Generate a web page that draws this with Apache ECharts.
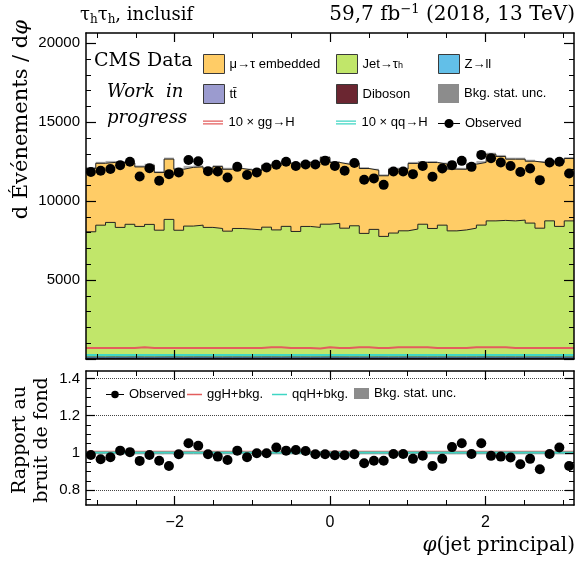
<!DOCTYPE html>
<html>
<head>
<meta charset="utf-8">
<title>phi leading jet</title>
<script src="https://cdn.jsdelivr.net/npm/echarts@6/dist/echarts.min.js"></script>
<style>
  html, body { margin: 0; padding: 0; background: #fff; }
  #chart { width: 577px; height: 563px; }
</style>
</head>
<body>
<div id="chart"></div>
<script>
// --- values (50 bins in phi, -pi..pi) ---
const observed = [11850, 11920, 12030, 12280, 12490, 11560, 12090, 11290, 11710, 11820,
  12610, 12530, 11900, 11880, 11500, 12170, 11660, 11820, 12130, 12300,
  12490, 12230, 12320, 12320, 12550, 12230, 11920, 12410, 11350, 11440,
  11030, 11880, 11880, 11710, 12230, 11540, 12070, 12280, 12550, 12170,
  12930, 12720, 12450, 12230, 11850, 12070, 11330, 12450, 12490, 11750];
const embedded = [4010, 3920, 3800, 4110, 3880, 3770, 3750, 3650, 3820, 3860,
  3720, 3690, 3690, 3920, 3920, 3800, 3750, 3730, 3920, 4050,
  4010, 4260, 4050, 4110, 4220, 3860, 4050, 3970, 4110, 3750,
  3840, 4050, 3910, 4160, 3910, 4180, 3870, 3910, 3840, 4050,
  3970, 4220, 4050, 3910, 3860, 3920, 4160, 3750, 4050, 3950];
const jetFakes = [7930, 8350, 8520, 8210, 8400, 8270, 8400, 8030, 8710, 8030,
  8290, 8350, 8210, 8140, 7970, 8140, 8100, 8050, 8220, 8050,
  8270, 7950, 8270, 8210, 8410, 8460, 8160, 8310, 7830, 8080,
  7640, 7850, 7990, 8100, 8410, 8140, 8350, 7990, 8050, 8160,
  8350, 8620, 8650, 8620, 8670, 8480, 8160, 8620, 8270, 8620];
const zll = [72, 70, 74, 69, 73, 71, 70, 72, 75, 70, 71, 73, 69, 70, 72, 71, 70, 73, 72, 70,
  74, 71, 69, 72, 73, 71, 70, 72, 69, 71, 70, 72, 71, 73, 70, 72, 71, 69, 70, 72,
  74, 73, 71, 70, 72, 71, 70, 73, 72, 71];
const ttbar = [45, 44, 46, 45, 47, 44, 45, 46, 45, 44, 46, 45, 44, 45, 46, 45, 44, 45, 47, 45,
  44, 46, 45, 44, 45, 46, 45, 44, 45, 46, 44, 45, 46, 45, 44, 45, 46, 45, 44, 45,
  46, 45, 47, 45, 44, 46, 45, 44, 45, 46];
const diboson = [12, 13, 12, 12, 13, 12, 11, 12, 13, 12, 12, 12, 13, 12, 11, 12, 12, 13, 12, 12,
  13, 12, 12, 11, 12, 13, 12, 12, 12, 13, 12, 11, 12, 12, 13, 12, 12, 12, 13, 12,
  12, 11, 12, 13, 12, 12, 12, 13, 12, 12];
const bkgUnc = [95, 92, 96, 94, 93, 95, 94, 96, 97, 93, 94, 95, 93, 94, 95, 94, 93, 95, 96, 94,
  95, 96, 94, 95, 97, 94, 95, 94, 93, 92, 91, 94, 93, 95, 94, 95, 94, 93, 94, 95,
  96, 98, 97, 96, 95, 95, 94, 96, 95, 97];
const ggH10 = [700, 700, 700, 700, 700, 740, 700, 700, 700, 700, 700, 700, 700, 700, 700, 700, 700, 700, 740, 740,
  700, 700, 700, 670, 740, 700, 700, 740, 740, 700, 700, 740, 740, 740, 740, 700, 700, 700, 700, 740,
  740, 740, 740, 700, 700, 700, 700, 700, 700, 700];
const qqH10 = [250, 252, 248, 250, 251, 249, 250, 252, 250, 248, 251, 250, 249, 250, 252, 250, 248, 250, 251, 250,
  249, 250, 252, 250, 251, 250, 249, 250, 248, 250, 251, 250, 252, 249, 250, 250, 251, 248, 250, 252,
  250, 251, 250, 249, 250, 252, 250, 248, 251, 250];
const ratioObs = [0.989, 0.966, 0.977, 1.012, 1.004, 0.957, 0.989, 0.958, 0.930, 0.993,
  1.052, 1.038, 0.993, 0.980, 0.962, 1.012, 0.977, 0.998, 0.998, 1.029,
  1.012, 1.016, 1.010, 0.993, 0.993, 0.987, 0.987, 0.993, 0.944, 0.958,
  0.958, 0.994, 0.994, 0.968, 0.985, 0.930, 0.968, 1.031, 1.052, 0.994,
  1.052, 0.984, 0.980, 0.975, 0.939, 0.968, 0.912, 0.994, 1.029, 0.930];

// ticks
const xMajor = [-2, 0, 2];
const xMinor = [-3, -2.5, -1.5, -1, -0.5, 0.5, 1, 1.5, 2.5, 3];
const yTopMajor = [0, 5000, 10000, 15000, 20000];
const yTopLabels = [5000, 10000, 15000, 20000];
const yTopMinor = [1000, 2000, 3000, 4000, 6000, 7000, 8000, 9000, 11000, 12000, 13000, 14000, 16000, 17000, 18000, 19000];
const yRatioMajor = [0.8, 1, 1.2, 1.4];
const yRatioMinor = [0.75, 0.85, 0.9, 0.95, 1.05, 1.1, 1.15, 1.25, 1.3, 1.35];
const ratioGridLines = [0.8, 1.2, 1.4];

const SERIF = '"DejaVu Serif", serif';
const SANS = '"Liberation Sans", Arial, sans-serif';

const nBins = observed.length;
const edges = [];
for (let i = 0; i <= nBins; i++) edges.push(-Math.PI + i * 2 * Math.PI / nBins);
const centers = edges.slice(0, nBins).map((e, i) => (e + edges[i + 1]) / 2);

// cumulative stack tops
const topDib = diboson.slice();
const topTT = ttbar.map((v, i) => v + topDib[i]);
const topZll = zll.map((v, i) => v + topTT[i]);
const topJet = jetFakes.map((v, i) => v + topZll[i]);
const total = embedded.map((v, i) => v + topJet[i]);

function steps(vals) {
  const out = [];
  vals.forEach((v, i) => { out.push([edges[i], v]); out.push([edges[i + 1], v]); });
  return out;
}

function areaSeries(name, vals, color, lineColor) {
  return {
    name: name, type: 'line', xAxisIndex: 0, yAxisIndex: 0,
    data: steps(vals), symbol: 'none', color: color,
    lineStyle: { color: lineColor, width: 1 },
    areaStyle: { color: color, opacity: 1 },
    animation: false
  };
}

function bandSeries(name, xi, yi, rows, fill) {
  return {
    name: name, type: 'custom', xAxisIndex: xi, yAxisIndex: yi,
    data: rows, encode: { x: [0, 1], y: [2, 3] },
    renderItem: function (params, api) {
      const a = api.coord([api.value(0), api.value(2)]);
      const b = api.coord([api.value(1), api.value(3)]);
      return { type: 'rect', shape: { x: a[0], y: b[1], width: b[0] - a[0], height: a[1] - b[1] }, style: { fill: fill } };
    },
    animation: false
  };
}

function xAxes(grid, pos, labels) {
  const base = {
    type: 'value', gridIndex: grid, position: pos, min: -Math.PI, max: Math.PI, z: 10,
    splitLine: { show: false }
  };
  return [
    Object.assign({}, base, {
      axisLine: { show: true, onZero: false, lineStyle: { color: '#000', width: 1.5 } },
      axisTick: { inside: true, length: 9, customValues: xMajor, lineStyle: { color: '#000', width: 1.2 } },
      axisLabel: labels ? {
        show: true, customValues: xMajor, margin: 10, color: '#000', fontFamily: SANS, fontSize: 16,
        formatter: v => v < 0 ? '\u2212' + Math.abs(v) : String(v)
      } : { show: false }
    }),
    Object.assign({}, base, {
      axisLine: { show: false, onZero: false },
      axisTick: { inside: true, length: 5, customValues: xMinor, lineStyle: { color: '#000', width: 1 } },
      axisLabel: { show: false }
    })
  ];
}

function yAxes(grid, pos, min, max, major, minor, labels, fmt, longT, shortT) {
  const base = { type: 'value', gridIndex: grid, position: pos, min: min, max: max, z: 10, splitLine: { show: false } };
  return [
    Object.assign({}, base, {
      axisLine: { show: true, onZero: false, lineStyle: { color: '#000', width: 1.5 } },
      axisTick: { inside: true, length: longT, customValues: major, lineStyle: { color: '#000', width: 1.2 } },
      axisLabel: labels ? {
        show: true, customValues: labels, margin: 6, color: '#000', fontFamily: SANS, fontSize: 15, formatter: fmt
      } : { show: false }
    }),
    Object.assign({}, base, {
      axisLine: { show: false, onZero: false },
      axisTick: { inside: true, length: shortT, customValues: minor, lineStyle: { color: '#000', width: 1 } },
      axisLabel: { show: false }
    })
  ];
}

const topMax = 20650;
const rMin = 0.72, rMax = 1.44;

const legendText = {
  fontFamily: SANS, fontSize: 13, color: '#000',
  rich: {
    n: { fontFamily: SANS, fontSize: 13, color: '#000' },
    s: { fontFamily: SANS, fontSize: 9, color: '#000', verticalAlign: 'bottom', lineHeight: 6 }
  }
};
const obsIcon = 'path://M0,4.4H7V5.6H0Z M17,4.4H24V5.6H17Z M17,5A5,5 0 1 1 7,5A5,5 0 1 1 17,5Z';
const dblLine = 'path://M0,0H20V1.2H0Z M0,2.8H20V4H0Z';
const oneLine = 'path://M0,0H20V2H0Z';

function leg(item, left, top, extra) {
  return Object.assign({
    left: left, top: top, padding: 0, itemGap: 0, selectedMode: false,
    itemWidth: 21, itemHeight: 19, textStyle: legendText,
    formatter: n => n === 'Jet\u2192\u03c4h' ? '{n|Jet\u2192\u03c4}{s|h}' : n,
    data: [item]
  }, extra || {});
}
function boxItem(name, color, border) {
  return { name: name, icon: 'rect', itemStyle: { color: color, borderColor: border || '#3a3a3a', borderWidth: border === 'none' ? 0 : 1 } };
}
function lineItem(name, color, icon) {
  return { name: name, icon: icon, itemStyle: { color: color, borderWidth: 0 } };
}

const C_EMB = '#ffcc66', C_JET = '#c1e66a', C_ZLL = '#62bfe8', C_TT = '#9b9bcf', C_VV = '#6b2631';
const C_GG = '#e35d5d', C_QQ = '#3fd6c4';
const NAME_TT = 't' + 't\u0304';

const option = {
  animation: false,
  backgroundColor: '#fff',
  grid: [
    { left: 86, width: 488, top: 33, height: 326, outerBoundsMode: 'none', containLabel: false },
    { left: 86, width: 488, top: 371, height: 134, outerBoundsMode: 'none', containLabel: false }
  ],
  xAxis: [].concat(xAxes(0, 'bottom', false), xAxes(0, 'top', false), xAxes(1, 'bottom', true), xAxes(1, 'top', false)),
  yAxis: [].concat(
    yAxes(0, 'left', 0, topMax, yTopMajor, yTopMinor, yTopLabels, v => String(v), 10, 5),
    yAxes(0, 'right', 0, topMax, yTopMajor, yTopMinor, null, null, 10, 5),
    yAxes(1, 'left', rMin, rMax, yRatioMajor, yRatioMinor, yRatioMajor, v => v === 1 ? '1' : v.toFixed(1), 9, 5),
    yAxes(1, 'right', rMin, rMax, yRatioMajor, yRatioMinor, null, null, 9, 5)
  ),
  legend: [
    leg(boxItem('\u03bc\u2192\u03c4 embedded', C_EMB), 203, 54),
    leg(boxItem('Jet\u2192\u03c4h', C_JET), 336, 54),
    leg(boxItem('Z\u2192ll', C_ZLL), 438, 54),
    leg(boxItem(NAME_TT, C_TT), 203, 84),
    leg(boxItem('Diboson', C_VV), 336, 84),
    leg(boxItem('Bkg. stat. unc.', '#8c8c8c', 'none'), 438, 84),
    leg(lineItem('10 \u00d7 gg\u2192H', C_GG, dblLine), 203, 116, { itemHeight: 4 }),
    leg(lineItem('10 \u00d7 qq\u2192H', C_QQ, dblLine), 336, 116, { itemHeight: 4 }),
    leg({ name: 'Observed', icon: obsIcon, itemStyle: { color: '#000' } }, 438, 117, { itemWidth: 22, itemHeight: 10 }),
    // ratio panel legend
    leg({ name: 'Observed', icon: obsIcon, itemStyle: { color: '#000' } }, 106, 388, { itemWidth: 18, itemHeight: 9 }),
    leg(lineItem('ggH+bkg.', C_GG, oneLine), 187, 388, { itemWidth: 15, itemHeight: 2 }),
    leg(lineItem('qqH+bkg.', C_QQ, oneLine), 272, 388, { itemWidth: 15, itemHeight: 2 }),
    leg(boxItem('Bkg. stat. unc.', '#8c8c8c', 'none'), 354, 387, { itemWidth: 15, itemHeight: 11 })
  ],
  graphic: [
    { type: 'text', x: 80, y: 15, style: {
      text: '{a|\u03c4}{b|h}{a|\u03c4}{b|h}{a|, inclusif}', verticalAlign: 'middle',
      rich: { a: { fontFamily: SERIF, fontSize: 18, lineHeight: 22, fill: '#000' },
              b: { fontFamily: SERIF, fontSize: 12, lineHeight: 9, verticalAlign: 'bottom', fill: '#000' } } } },
    { type: 'text', x: 575, y: 15, style: {
      text: '{a|59,7 fb}{p|\u22121}{a| (2018, 13 TeV)}', align: 'right', verticalAlign: 'middle',
      rich: { a: { fontFamily: SERIF, fontSize: 20, lineHeight: 24, fill: '#000' },
              p: { fontFamily: SERIF, fontSize: 13, lineHeight: 13, verticalAlign: 'top', fill: '#000' } } } },
    { type: 'text', x: 94, y: 61, z: 20, style: { text: 'CMS Data', fontFamily: SERIF, fontSize: 19, fill: '#000', verticalAlign: 'middle' } },
    { type: 'text', x: 107, y: 92, z: 20, style: { text: 'Work  in', fontFamily: SERIF, fontStyle: 'italic', fontSize: 18, fill: '#000', verticalAlign: 'middle' } },
    { type: 'text', x: 107, y: 118, z: 20, style: { text: 'progress', fontFamily: SERIF, fontStyle: 'italic', fontSize: 18, fill: '#000', verticalAlign: 'middle' } },
    { type: 'text', x: 22, y: 20, rotation: Math.PI / 2, style: {
      text: '{a|d \u00c9v\u00e9nements / d}{i|\u03c6}', align: 'right', verticalAlign: 'middle',
      rich: { a: { fontFamily: SERIF, fontSize: 21, fill: '#000' }, i: { fontFamily: SERIF, fontStyle: 'italic', fontSize: 21, fill: '#000' } } } },
    { type: 'text', x: 31, y: 440, rotation: Math.PI / 2, style: {
      text: 'Rapport au\nbruit de fond', align: 'center', verticalAlign: 'middle',
      fontFamily: SERIF, fontSize: 19, lineHeight: 22, fill: '#000' } },
    { type: 'text', x: 575, y: 546, style: {
      text: '{i|\u03c6}{a|(jet principal)}', align: 'right', verticalAlign: 'middle',
      rich: { a: { fontFamily: SERIF, fontSize: 20, fill: '#000' }, i: { fontFamily: SERIF, fontStyle: 'italic', fontSize: 20, fill: '#000' } } } }
  ],
  series: [
    areaSeries('\u03bc\u2192\u03c4 embedded', total, C_EMB, '#222'),
    areaSeries('Jet\u2192\u03c4h', topJet, C_JET, '#222'),
    areaSeries('Z\u2192ll', topZll, C_ZLL, '#1b4d66'),
    areaSeries(NAME_TT, topTT, C_TT, '#3d3d66'),
    areaSeries('Diboson', topDib, C_VV, '#3a0f16'),
    bandSeries('Bkg. stat. unc.', 0, 0, total.map((t, i) => [edges[i], edges[i + 1], t - bkgUnc[i], t + bkgUnc[i]]), 'rgba(120,120,120,0.6)'),
    { name: '10 \u00d7 gg\u2192H', type: 'line', xAxisIndex: 0, yAxisIndex: 0, data: steps(ggH10), symbol: 'none',
      color: C_GG, lineStyle: { color: C_GG, width: 2 } },
    { name: '10 \u00d7 qq\u2192H', type: 'line', xAxisIndex: 0, yAxisIndex: 0, data: steps(qqH10), symbol: 'none',
      color: C_QQ, lineStyle: { color: C_QQ, width: 2 } },
    { name: 'Observed', type: 'scatter', xAxisIndex: 0, yAxisIndex: 0, z: 5,
      data: observed.map((v, i) => [centers[i], v]), symbol: 'circle', symbolSize: 10, itemStyle: { color: '#000', opacity: 1 } },

    // ratio panel
    bandSeries('Bkg. stat. unc.', 4, 4, total.map((t, i) => [edges[i], edges[i + 1], 1 - bkgUnc[i] / t, 1 + bkgUnc[i] / t]), 'rgba(130,130,130,0.85)'),
    { name: 'ggH+bkg.', type: 'line', xAxisIndex: 4, yAxisIndex: 4, symbol: 'none', color: C_GG,
      data: steps(total.map((t, i) => (t + ggH10[i] / 10) / t)), lineStyle: { color: C_GG, width: 2 },
      markLine: { silent: true, symbol: 'none', label: { show: false },
        lineStyle: { color: '#444', type: 'dotted', width: 1 },
        data: ratioGridLines.map(v => ({ yAxis: v })) } },
    { name: 'qqH+bkg.', type: 'line', xAxisIndex: 4, yAxisIndex: 4, symbol: 'none', color: C_QQ,
      data: steps(total.map((t, i) => (t + qqH10[i] / 10) / t)), lineStyle: { color: C_QQ, width: 2 } },
    { name: 'Observed', type: 'scatter', xAxisIndex: 4, yAxisIndex: 4, z: 5,
      data: ratioObs.map((v, i) => [centers[i], v]), symbol: 'circle', symbolSize: 10, itemStyle: { color: '#000', opacity: 1 } }
  ]
};

const chart = echarts.init(document.getElementById('chart'), null, { renderer: 'canvas' });
chart.setOption(option);
</script>
</body>
</html>
